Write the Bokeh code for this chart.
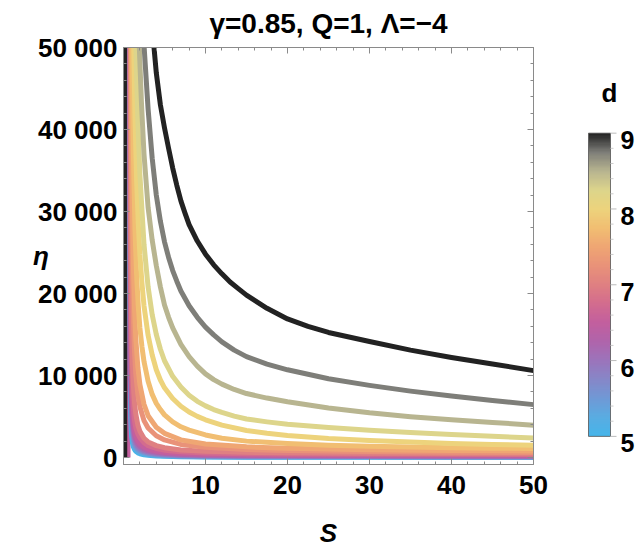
import numpy as np
from bokeh.plotting import figure
from bokeh.layouts import row
from bokeh.models import Range1d, LinearAxis, FixedTicker, LinearColorMapper
from bokeh.core.properties import value
from bokeh.embed import file_html
from bokeh.resources import INLINE

# ---------------- text ----------------
title_text = "γ=0.85, Q=1, Λ=−4"
x_label = "S"
y_label = "η"
cbar_title = "d"

# ---------------- ticks ----------------
x_major = [10, 20, 30, 40, 50]
x_minor = [0, 2, 4, 6, 8, 12, 14, 16, 18, 22, 24, 26, 28, 32, 34, 36, 38, 42, 44, 46, 48]
y_major = [0, 10000, 20000, 30000, 40000, 50000]
y_major_labels = ["0", "10 000", "20 000", "30 000", "40 000", "50 000"]
y_minor = [2000, 4000, 6000, 8000, 12000, 14000, 16000, 18000, 22000, 24000, 26000, 28000,
           32000, 34000, 36000, 38000, 42000, 44000, 46000, 48000]
cbar_major = [5, 6, 7, 8, 9]
cbar_major_labels = ["5", "6", "7", "8", "9"]
cbar_minor = [5.2, 5.4, 5.6, 5.8, 6.2, 6.4, 6.6, 6.8, 7.2, 7.4, 7.6, 7.8, 8.2, 8.4, 8.6, 8.8]

# ---------------- colour scale (d -> colour) ----------------
stop_d = [5.0, 5.25, 5.5, 5.75, 6.0, 6.25, 6.5, 6.75, 7.0, 7.25, 7.5, 7.75, 8.0, 8.25, 8.5, 8.75, 9.0]
stop_hex = ["#46b5ea", "#5aace2", "#7099d6", "#8787c8", "#9c74bb", "#b064ab", "#c35f9e", "#d36c8e",
            "#df8082", "#e99279", "#efa673", "#f1be72", "#edd37c", "#ddd58b", "#b8b590", "#7e7e79", "#222222"]

# ---------------- curves: d, S values, eta values ----------------
d_5_00 = 5.0
S_5_00 = [0.8, 0.82, 0.85, 0.9, 0.95, 1.0, 1.1, 1.2, 1.35, 1.5, 1.75, 2.0, 2.5, 3, 4, 5, 7, 10, 15, 20, 30, 40, 50]
eta_5_00 = [54000, 18000, 9000, 4910, 3375, 2570, 1740, 1320, 965, 760, 570, 465, 340, 270, 195, 150, 100, 68, 45, 36, 30, 27, 25]

d_5_25 = 5.25
S_5_25 = [0.8, 0.82, 0.85, 0.9, 0.95, 1.0, 1.1, 1.2, 1.35, 1.5, 1.75, 2.0, 2.5, 3, 4, 5, 7, 10, 15, 20, 30, 40, 50]
eta_5_25 = [58300, 21900, 11300, 6250, 4320, 3300, 2240, 1700, 1250, 985, 740, 610, 450, 360, 265, 205, 145, 100, 72, 60, 52, 48, 45]

d_5_50 = 5.5
S_5_50 = [0.79, 0.8, 0.82, 0.85, 0.9, 0.95, 1.0, 1.1, 1.2, 1.35, 1.5, 1.75, 2.0, 2.5, 3, 4, 5, 7, 10, 15, 20, 30, 40, 50]
eta_5_50 = [180000, 60000, 25700, 13850, 7830, 5450, 4190, 2860, 2170, 1590, 1260, 950, 790, 590, 470, 350, 275, 200, 140, 105, 90, 80, 74, 70]

d_5_75 = 5.75
S_5_75 = [0.79, 0.8, 0.82, 0.85, 0.9, 0.95, 1.0, 1.1, 1.2, 1.35, 1.5, 1.75, 2.0, 2.5, 3, 4, 5, 7, 10, 15, 20, 30, 40, 50]
eta_5_75 = [137500, 61100, 28900, 16200, 9320, 6550, 5050, 3460, 2630, 1940, 1530, 1160, 960, 720, 580, 430, 340, 250, 185, 145, 128, 112, 105, 100]

d_6_00 = 6.0
S_6_00 = [0.79, 0.8, 0.82, 0.85, 0.9, 0.95, 1.0, 1.1, 1.2, 1.35, 1.5, 1.75, 2.0, 2.5, 3, 4, 5, 7, 10, 15, 20, 30, 40, 50]
eta_6_00 = [130000, 65000, 32500, 18600, 10800, 7650, 5910, 4060, 3100, 2290, 1820, 1380, 1150, 860, 700, 530, 420, 320, 240, 195, 175, 155, 146, 140]

d_6_25 = 6.25
S_6_25 = [0.78, 0.8, 0.82, 0.85, 0.9, 0.95, 1.0, 1.1, 1.2, 1.35, 1.5, 1.75, 2.0, 2.5, 3, 4, 5, 7, 10, 15, 20, 30, 40, 50]
eta_6_25 = [310000, 62000, 34400, 20700, 12400, 8860, 6890, 4770, 3650, 2720, 2170, 1660, 1390, 1040, 845, 640, 520, 400, 310, 260, 235, 210, 198, 190]

d_6_50 = 6.5
S_6_50 = [0.78, 0.8, 0.82, 0.85, 0.9, 0.95, 1.0, 1.1, 1.2, 1.35, 1.5, 1.75, 2.0, 2.5, 3, 4, 5, 7, 10, 15, 20, 30, 40, 50]
eta_6_50 = [185000, 61700, 37000, 23100, 14200, 10300, 8040, 5600, 4300, 3250, 2650, 2050, 1700, 1280, 1040, 790, 645, 500, 400, 340, 310, 285, 270, 260]

d_6_75 = 6.75
S_6_75 = [0.78, 0.8, 0.82, 0.85, 0.9, 0.95, 1.0, 1.1, 1.2, 1.35, 1.5, 1.75, 2.0, 2.5, 3, 4, 5, 7, 10, 15, 20, 30, 40, 50]
eta_6_75 = [173000, 74300, 47300, 30600, 19300, 14050, 11050, 7750, 5970, 4440, 3600, 2850, 2400, 1800, 1450, 1100, 900, 700, 560, 470, 430, 395, 375, 360]

d_7_00 = 7.0
S_7_00 = [0.8, 0.84, 0.87, 0.9, 0.95, 1.0, 1.1, 1.2, 1.35, 1.5, 1.75, 2.0, 2.5, 3, 4, 5, 7, 10, 15, 20, 30, 40, 50]
eta_7_00 = [95750, 47900, 34800, 27400, 20200, 16000, 11300, 8800, 6600, 5300, 3950, 3200, 2350, 1900, 1450, 1200, 930, 760, 630, 570, 510, 485, 470]

d_7_25 = 7.25
S_7_25 = [0.85, 0.9, 0.95, 1.0, 1.1, 1.2, 1.35, 1.5, 1.75, 2.0, 2.5, 3, 4, 5, 7, 10, 15, 20, 30, 40, 50]
eta_7_25 = [74000, 50000, 37700, 30300, 21750, 17000, 12800, 10200, 7700, 6200, 4500, 3600, 2650, 2150, 1600, 1250, 980, 850, 720, 650, 600]

d_7_50 = 7.5
S_7_50 = [0.9, 0.95, 1.0, 1.1, 1.2, 1.35, 1.5, 1.75, 2.0, 2.5, 3, 4, 5, 7, 10, 15, 20, 30, 40, 50]
eta_7_50 = [64200, 50000, 40900, 30000, 23700, 18000, 14500, 11000, 8900, 6500, 5100, 3700, 2950, 2150, 1650, 1300, 1120, 950, 860, 800]

d_7_75 = 7.75
S_7_75 = [0.95, 1.05, 1.2, 1.4, 1.6, 1.8, 2.0, 2.25, 2.5, 3.0, 3.5, 4, 4.5, 5, 6, 7, 8, 10, 12, 15, 20, 25, 30, 35, 40, 45, 50]
eta_7_75 = [64900, 50000, 37300, 27800, 22200, 18500, 15800, 13500, 11700, 9300, 7700, 6600, 5850, 5200, 4350, 3750, 3350, 2750, 2350, 2000, 1700, 1500, 1370, 1270, 1190, 1140, 1100]

d_8_00 = 8.0
S_8_00 = [1.1, 1.25, 1.4, 1.6, 1.8, 2.0, 2.25, 2.5, 3, 3.5, 4, 4.5, 5, 6, 7, 8, 9, 10, 12, 15, 17.5, 20, 25, 30, 35, 40, 45, 50]
eta_8_00 = [62900, 50000, 41500, 33800, 28600, 24700, 21300, 18500, 14900, 12500, 10700, 9450, 8500, 7200, 6250, 5550, 5020, 4600, 3950, 3300, 2950, 2700, 2330, 2080, 1880, 1720, 1600, 1500]

d_8_25 = 8.25
S_8_25 = [1.35, 1.52, 1.75, 2, 2.5, 3, 3.5, 4, 4.5, 5, 6, 7, 8, 9, 10, 11, 12, 13.5, 15, 17.5, 20, 25, 30, 35, 40, 45, 50]
eta_8_25 = [58000, 50000, 41000, 34500, 26000, 20800, 17400, 15000, 13200, 11800, 9900, 8600, 7600, 6850, 6300, 5850, 5500, 5050, 4700, 4350, 4050, 3650, 3320, 3060, 2820, 2590, 2380]

d_8_50 = 8.5
S_8_50 = [1.7, 1.93, 2.2, 2.5, 3, 3.5, 4, 4.5, 5, 5.5, 6, 7, 8, 9, 10, 11, 12, 13.5, 15, 17.5, 20, 25, 30, 35, 40, 45, 50]
eta_8_50 = [58000, 50000, 43000, 37000, 30500, 26500, 23400, 20800, 18600, 17100, 15800, 13800, 12300, 11150, 10200, 9500, 8950, 8300, 7800, 7250, 6800, 6050, 5450, 4980, 4620, 4280, 3950]

d_8_75 = 8.75
S_8_75 = [2.3, 2.52, 3, 3.5, 4, 4.5, 5, 5.5, 6, 6.5, 7, 8, 9, 10, 11, 12, 13.5, 15, 17.5, 20, 25, 30, 35, 40, 45, 50]
eta_8_75 = [56000, 50000, 42500, 36500, 32000, 28800, 26300, 24400, 22800, 21500, 20300, 18500, 17100, 15900, 14950, 14100, 13100, 12300, 11400, 10700, 9600, 8800, 8100, 7500, 6950, 6450]

d_9_00 = 9.0
S_9_00 = [3.35, 3.72, 4, 4.5, 5, 5.5, 6, 6.5, 7, 7.5, 8, 9, 10, 11, 12, 13, 14, 15, 17.5, 20, 22.5, 25, 30, 35, 40, 45, 50]
eta_9_00 = [56000, 50000, 46900, 43000, 40200, 37700, 35300, 33200, 31300, 29800, 28400, 26400, 24800, 23500, 22400, 21400, 20600, 19800, 18200, 16900, 16000, 15250, 14150, 13100, 12200, 11400, 10600]

# near-vertical branches along the left edge
branch_d = [6.5, 9.0]
branch_S = [0.55, 0.15]
branch_eta_lo = [0, 0]
branch_eta_hi = [50000, 50000]

curves = [
    (d_5_00, S_5_00, eta_5_00), (d_5_25, S_5_25, eta_5_25), (d_5_50, S_5_50, eta_5_50),
    (d_5_75, S_5_75, eta_5_75), (d_6_00, S_6_00, eta_6_00), (d_6_25, S_6_25, eta_6_25),
    (d_6_50, S_6_50, eta_6_50), (d_6_75, S_6_75, eta_6_75), (d_7_00, S_7_00, eta_7_00),
    (d_7_25, S_7_25, eta_7_25), (d_7_50, S_7_50, eta_7_50), (d_7_75, S_7_75, eta_7_75),
    (d_8_00, S_8_00, eta_8_00), (d_8_25, S_8_25, eta_8_25), (d_8_50, S_8_50, eta_8_50),
    (d_8_75, S_8_75, eta_8_75), (d_9_00, S_9_00, eta_9_00),
]

# ---------------- helpers ----------------
def hex_to_rgb(h):
    h = h.lstrip("#")
    return tuple(int(h[i:i + 2], 16) for i in (0, 2, 4))


def colour_at(d):
    if d <= stop_d[0]:
        return stop_hex[0]
    if d >= stop_d[-1]:
        return stop_hex[-1]
    for i in range(len(stop_d) - 1):
        if stop_d[i] <= d <= stop_d[i + 1]:
            t = (d - stop_d[i]) / (stop_d[i + 1] - stop_d[i])
            a, b = hex_to_rgb(stop_hex[i]), hex_to_rgb(stop_hex[i + 1])
            c = [round(a[k] + (b[k] - a[k]) * t) for k in range(3)]
            return "#%02x%02x%02x" % tuple(c)


palette = [colour_at(stop_d[0] + (stop_d[-1] - stop_d[0]) * i / 255) for i in range(256)]

FONT = "Liberation Sans"
FRAME = "#8a8a8a"

# ---------------- main plot ----------------
p = figure(width=548, height=550, x_range=Range1d(0, 50), y_range=Range1d(-850, 50000),
           output_backend="svg", toolbar_location=None,
           x_axis_location=None, y_axis_location=None,
           min_border_left=123, min_border_right=15, min_border_top=46, min_border_bottom=84)
p.grid.visible = False
p.outline_line_color = FRAME
p.background_fill_color = "white"
p.border_fill_color = "white"

p.title.text = title_text
p.title.align = "center"
p.title.offset = 5
p.title.text_font = FONT
p.title.text_font_size = "28px"
p.title.text_font_style = "bold"
p.title.text_color = "black"
p.title.vertical_align = "top"
p.title.standoff = 14


def style_axis(ax, major, minor, show_labels):
    ax.ticker = FixedTicker(ticks=major, minor_ticks=minor)
    ax.axis_line_color = FRAME
    ax.major_tick_line_color = FRAME
    ax.minor_tick_line_color = FRAME
    ax.major_tick_in = 6
    ax.major_tick_out = 0
    ax.minor_tick_in = 3
    ax.minor_tick_out = 0
    ax.major_label_text_font = FONT
    ax.major_label_text_font_style = "bold"
    if show_labels:
        ax.major_label_text_font_size = "26px"
        ax.major_label_text_color = "black"
    else:
        ax.major_label_text_font_size = "1px"
        ax.major_label_text_color = None
        ax.major_label_standoff = 0


xb = LinearAxis()
style_axis(xb, x_major, x_minor, True)
xb.major_label_standoff = 11
xb.axis_label = x_label
xb.axis_label_text_font = FONT
xb.axis_label_text_font_size = "26px"
xb.axis_label_text_font_style = "bold italic"
xb.axis_label_text_color = "black"
xb.axis_label_standoff = 21
p.add_layout(xb, "below")

yl = LinearAxis()
style_axis(yl, y_major, y_minor, True)
yl.major_label_standoff = 6
yl.major_label_overrides = {v: s for v, s in zip(y_major, y_major_labels)}
yl.axis_label = y_label
yl.axis_label_text_font = FONT
yl.axis_label_text_font_size = "26px"
yl.axis_label_text_font_style = "bold italic"
yl.axis_label_text_color = "black"
if "axis_label_orientation" in LinearAxis.properties():
    yl.axis_label_orientation = "horizontal"
    yl.axis_label_standoff = -14
p.add_layout(yl, "left")

xt = LinearAxis()
style_axis(xt, x_major, x_minor, False)
p.add_layout(xt, "above")

yr = LinearAxis()
style_axis(yr, y_major, y_minor, False)
p.add_layout(yr, "right")

# branches first (underneath)
for d, s, lo, hi in zip(branch_d, branch_S, branch_eta_lo, branch_eta_hi):
    p.line([s, s], [lo, hi], line_width=5, line_color=colour_at(d))

for d, S, eta in curves:
    p.line(S, eta, line_width=5, line_color=colour_at(d), line_join="round", line_cap="round")

# ---------------- colour bar panel (x in page pixels, y in d units; frame is aligned with main frame) ----------------
pc = figure(width=88, height=550, x_range=Range1d(548, 636), y_range=Range1d(4.629, 10.130),
            output_backend="svg", toolbar_location=None, title=None,
            x_axis_location=None, y_axis_location=None,
            min_border_left=0, min_border_right=0, min_border_top=46, min_border_bottom=84)
pc.grid.visible = False
pc.outline_line_color = None
pc.background_fill_color = "white"
pc.border_fill_color = "white"

bar_left, bar_right = 588, 610
mapper = LinearColorMapper(palette=palette, low=stop_d[0], high=stop_d[-1])
gradient = np.linspace(stop_d[0], stop_d[-1], 256).reshape(256, 1)
pc.image(image=[gradient], x=bar_left, y=stop_d[0], dw=bar_right - bar_left,
         dh=stop_d[-1] - stop_d[0], color_mapper=mapper)
pc.quad(left=[bar_left], right=[bar_right], bottom=[stop_d[0]], top=[stop_d[-1]],
        fill_color=None, line_color="#555555", line_width=1, line_alpha=0.8)
pc.segment(x0=[bar_right] * len(cbar_minor), y0=cbar_minor, x1=[bar_right + 3] * len(cbar_minor), y1=cbar_minor,
           line_color="#cccccc", line_width=1)
pc.segment(x0=[bar_right] * len(cbar_major), y0=cbar_major, x1=[bar_right + 6] * len(cbar_major), y1=cbar_major,
           line_color="#bbbbbb", line_width=1)
pc.text(x=[bar_right + 10] * len(cbar_major), y=cbar_major, text=cbar_major_labels,
        text_font=value(FONT), text_font_size=value("25px"), text_font_style="bold",
        text_color="black", text_align="left", text_baseline="middle", y_offset=7)
pc.text(x=[609], y=[9.534], text=[cbar_title],
        text_font=value(FONT), text_font_size=value("26px"), text_font_style="bold",
        text_color="black", text_align="center", text_baseline="middle")

open("out.html", "w").write(file_html(row(p, pc), INLINE))
